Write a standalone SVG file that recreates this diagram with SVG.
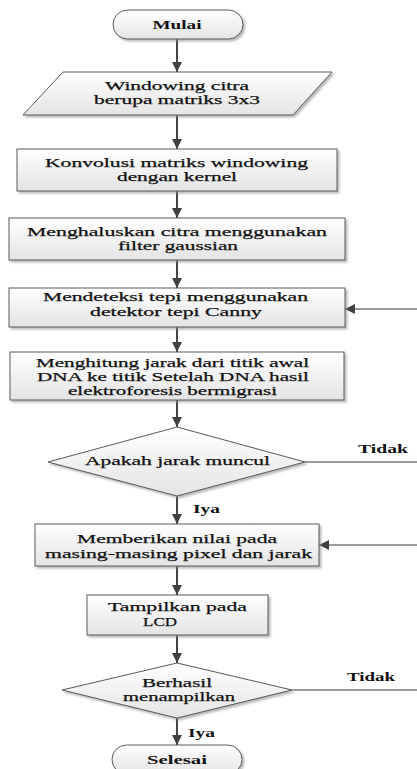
<svg xmlns="http://www.w3.org/2000/svg" width="417" height="769" viewBox="0 0 417 769" font-family="'Liberation Serif', 'DejaVu Serif', serif">
<defs>
<linearGradient id="g" x1="0" y1="0" x2="0" y2="1">
<stop offset="0" stop-color="#ffffff"/>
<stop offset="1" stop-color="#e4e4e4"/>
</linearGradient>
<filter id="sh" x="-10%" y="-10%" width="130%" height="140%">
<feDropShadow dx="2" dy="2" stdDeviation="1" flood-color="#888" flood-opacity="0.6"/>
</filter>
<marker id="ah" markerUnits="userSpaceOnUse" markerWidth="12" markerHeight="12" refX="10" refY="5" orient="auto">
<path d="M0,0 L10,5 L0,10 Z" fill="#404040"/>
</marker>
</defs>
<style>
.s{fill:url(#g);stroke:#5a5a5a;stroke-width:1;filter:url(#sh)}
text{font-family:'Liberation Serif','DejaVu Serif',serif;font-size:13.5px;fill:#111;stroke:#111;stroke-width:0.25}
.t{text-anchor:middle}
.l{font-weight:bold;stroke-width:0}
.b{font-weight:bold;stroke-width:0}
.c{stroke:#454545;stroke-width:2;fill:none}
.c2{stroke:#7a7a7a;stroke-width:1.5;fill:none}
</style>
<rect width="417" height="769" fill="#fff"/>
<g id="connectors">
<line class="c" x1="177" y1="39" x2="177" y2="72" marker-end="url(#ah)"/>
<line class="c" x1="177" y1="115" x2="177" y2="149" marker-end="url(#ah)"/>
<line class="c" x1="177" y1="191" x2="177" y2="218" marker-end="url(#ah)"/>
<line class="c" x1="177" y1="260" x2="177" y2="288" marker-end="url(#ah)"/>
<line class="c" x1="177" y1="327" x2="177" y2="352" marker-end="url(#ah)"/>
<line class="c" x1="177" y1="400" x2="177" y2="427" marker-end="url(#ah)"/>
<line class="c" x1="177" y1="496" x2="177" y2="524" marker-end="url(#ah)"/>
<line class="c" x1="177" y1="566" x2="177" y2="595" marker-end="url(#ah)"/>
<line class="c" x1="177" y1="635" x2="177" y2="663" marker-end="url(#ah)"/>
<line class="c" x1="177" y1="718" x2="177" y2="745" marker-end="url(#ah)"/>
<line class="c2" x1="417" y1="309" x2="345" y2="309" marker-end="url(#ah)"/>
<line class="c2" x1="417" y1="545" x2="319" y2="545" marker-end="url(#ah)"/>
<line class="c2" x1="305" y1="462" x2="417" y2="462"/>
<line class="c2" x1="292" y1="690" x2="417" y2="690"/>
<text class="l" x="358" y="453" textLength="50" lengthAdjust="spacingAndGlyphs">Tidak</text>
<text class="l" x="193" y="513" textLength="27" lengthAdjust="spacingAndGlyphs">Iya</text>
<text class="l" x="347" y="681" textLength="48" lengthAdjust="spacingAndGlyphs">Tidak</text>
<text class="l" x="188" y="737" textLength="27" lengthAdjust="spacingAndGlyphs">Iya</text>
</g>
<g id="mulai">
<rect class="s" x="113" y="10" width="130" height="29" rx="14.5"/>
<text class="t b" x="177" y="29" textLength="49" lengthAdjust="spacingAndGlyphs">Mulai</text>
</g>
<g id="windowing">
<polygon class="s" points="63,72 332,72 293,115 23,115"/>
<text class="t" x="177" y="90" textLength="144" lengthAdjust="spacingAndGlyphs">Windowing citra</text>
<text class="t" x="177" y="104" textLength="166" lengthAdjust="spacingAndGlyphs">berupa matriks 3x3</text>
</g>
<g id="konvolusi">
<rect class="s" x="17" y="149" width="320" height="42"/>
<text class="t" x="176.5" y="167" textLength="263" lengthAdjust="spacingAndGlyphs">Konvolusi matriks windowing</text>
<text class="t" x="177" y="181" textLength="120" lengthAdjust="spacingAndGlyphs">dengan kernel</text>
</g>
<g id="menghaluskan">
<rect class="s" x="9" y="218" width="336" height="42"/>
<text class="t" x="177" y="236" textLength="300" lengthAdjust="spacingAndGlyphs">Menghaluskan citra menggunakan</text>
<text class="t" x="178" y="250" textLength="120" lengthAdjust="spacingAndGlyphs">filter gaussian</text>
</g>
<g id="mendeteksi">
<rect class="s" x="9" y="288" width="336" height="39"/>
<text class="t" x="175.5" y="301" textLength="265" lengthAdjust="spacingAndGlyphs">Mendeteksi tepi menggunakan</text>
<text class="t" x="176" y="316" textLength="172" lengthAdjust="spacingAndGlyphs">detektor tepi Canny</text>
</g>
<g id="menghitung">
<rect class="s" x="10" y="352" width="334" height="48"/>
<text class="t" x="172.5" y="367" font-size="13" textLength="273" lengthAdjust="spacingAndGlyphs">Menghitung jarak dari titik awal</text>
<text class="t" x="173" y="381" font-size="13" textLength="272" lengthAdjust="spacingAndGlyphs">DNA ke titik Setelah DNA hasil</text>
<text class="t" x="172.5" y="395" font-size="13" textLength="209" lengthAdjust="spacingAndGlyphs">elektroforesis bermigrasi</text>
</g>
<g id="apakah">
<polygon class="s" points="177,427 305,462 177,496 48,462"/>
<text class="t" x="177.5" y="465" textLength="185" lengthAdjust="spacingAndGlyphs">Apakah jarak muncul</text>
</g>
<g id="memberikan">
<rect class="s" x="35" y="524" width="284" height="42"/>
<text class="t" x="177" y="543" textLength="200" lengthAdjust="spacingAndGlyphs">Memberikan nilai pada</text>
<text class="t" x="178.5" y="558" textLength="267" lengthAdjust="spacingAndGlyphs">masing-masing pixel dan jarak</text>
</g>
<g id="tampilkan">
<rect class="s" x="87" y="595" width="181" height="40"/>
<text class="t" x="177.5" y="611" textLength="139" lengthAdjust="spacingAndGlyphs">Tampilkan pada</text>
<text class="t" x="160" y="626" textLength="34" lengthAdjust="spacingAndGlyphs">LCD</text>
</g>
<g id="berhasil">
<polygon class="s" points="177,663 292,690 177,718 62,690"/>
<text class="t" x="177" y="687" textLength="70" lengthAdjust="spacingAndGlyphs">Berhasil</text>
<text class="t" x="179" y="701" textLength="112" lengthAdjust="spacingAndGlyphs">menampilkan</text>
</g>
<g id="selesai">
<rect class="s" x="112" y="745" width="130" height="29" rx="14.5"/>
<text class="t b" x="177" y="764" textLength="60" lengthAdjust="spacingAndGlyphs">Selesai</text>
</g>
</svg>
